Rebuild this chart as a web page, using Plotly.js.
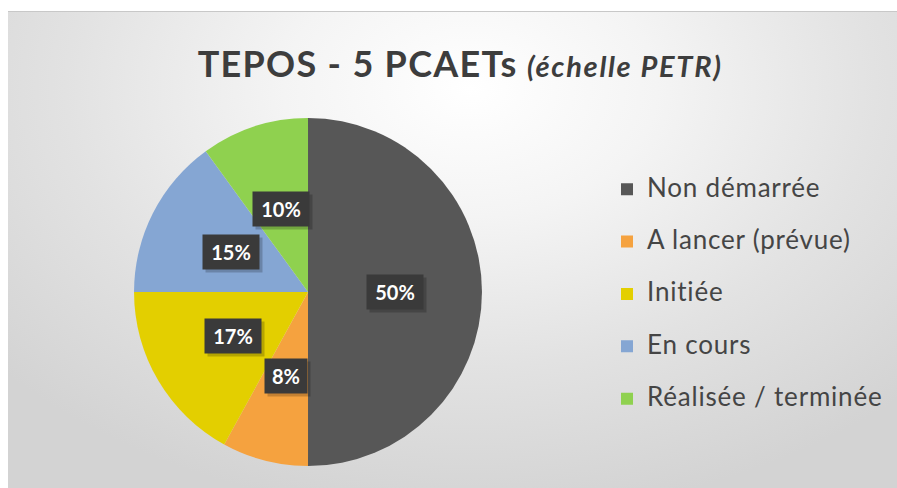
<!DOCTYPE html>
<html><head><meta charset="utf-8">
<script src="https://cdn.plot.ly/plotly-3.0.1.min.js"></script>
<style>
html,body{margin:0;padding:0;background:#fff;}
#wrap{position:relative;width:897px;height:488px;overflow:hidden;}
#bg{position:absolute;left:8px;top:11px;right:0;bottom:0;
  background:radial-gradient(ellipse 70% 90% at 52% 16%, #ffffff 0%, #f4f4f4 30%, #e2e2e2 65%, #d3d3d3 100%);
  border-top:1px solid #c8c8c8;}
#chart{position:absolute;left:0;top:0;width:897px;height:488px;}
</style></head><body>
<div id="wrap"><div id="bg"></div><div id="chart"></div></div>
<script>
const categories = ['Non démarrée', 'A lancer (prévue)', 'Initiée', 'En cours', 'Réalisée / terminée'];
const values = [50, 8, 17, 15, 10];
const colors = ['#575757', '#F5A23F', '#E3CF00', '#85A6D3', '#8FD14F'];

const W = 897, H = 488;
const domX = [0.1494, 0.5374], domY = [0.0451, 0.7582];
const total = values.reduce((a, b) => a + b, 0);

const legendLabels = categories.map(c => '<span style="font-size:26px;letter-spacing:0.8px">' + c + '</span><br>\u00a0');

const trace = {
  type: 'pie',
  labels: legendLabels,
  values: values,
  sort: false,
  direction: 'clockwise',
  rotation: 0,
  marker: {colors: colors, line: {width: 0}},
  textinfo: 'none',
  hoverinfo: 'percent',
  domain: {x: domX, y: domY},
  showlegend: true
};

// labels placed at half the radius along each slice's mid-angle
const cx = (domX[0] + domX[1]) / 2, cy = (domY[0] + domY[1]) / 2;
const Rpx = Math.min((domX[1] - domX[0]) * W, (domY[1] - domY[0]) * H) / 2;
let cum = 0;
const annotations = [];
const shadows = [];
values.forEach(v => {
  const th = 2 * Math.PI * (cum + v / 2) / total;
  cum += v;
  const txt = Math.round(v / total * 100) + '%';
  const boxW = 14 * txt.length + 4;
  const base = {
    xref: 'paper', yref: 'paper',
    x: cx + 0.5 * Rpx * Math.sin(th) / W,
    y: cy + 0.5 * Rpx * Math.cos(th) / H,
    text: '<b>' + txt + '</b>',
    showarrow: false,
    font: {family: 'Lato, sans-serif', size: 20, color: '#ffffff'},
    bgcolor: '#3a3a3a',
    borderpad: 5,
    width: boxW, height: 24,
    xanchor: 'center', yanchor: 'middle'
  };
  shadows.push(Object.assign({}, base, {
    text: '\u00a0',
    xshift: 3, yshift: -3, bgcolor: 'rgba(0,0,0,0.2)'
  }));
  annotations.push(base);
});

const layout = {
  width: W, height: H,
  margin: {l: 0, r: 0, t: 0, b: 0, autoexpand: false},
  paper_bgcolor: 'rgba(0,0,0,0)',
  plot_bgcolor: 'rgba(0,0,0,0)',
  title: {
    text: '<b><span style="letter-spacing:1.3px">TEPOS - 5 PCAETs</span></b> <b><i><span style="font-size:29px;letter-spacing:1.7px">(échelle PETR)</span></i></b>',
    font: {family: 'Lato, sans-serif', size: 36, color: '#3d3d3d'},
    x: 0.513, xanchor: 'center', xref: 'paper',
    y: 1 - 64 / H, yanchor: 'middle', yref: 'container'
  },
  legend: {
    x: 607 / W, y: 0.651, xanchor: 'left', yanchor: 'top',
    bgcolor: 'rgba(0,0,0,0)',
    font: {family: 'Lato, sans-serif', size: 19, color: '#454545'},
    valign: 'top'
  },
  annotations: shadows.concat(annotations)
};

Plotly.newPlot('chart', [trace], layout, {displayModeBar: false, staticPlot: true});
</script>
</body></html>
